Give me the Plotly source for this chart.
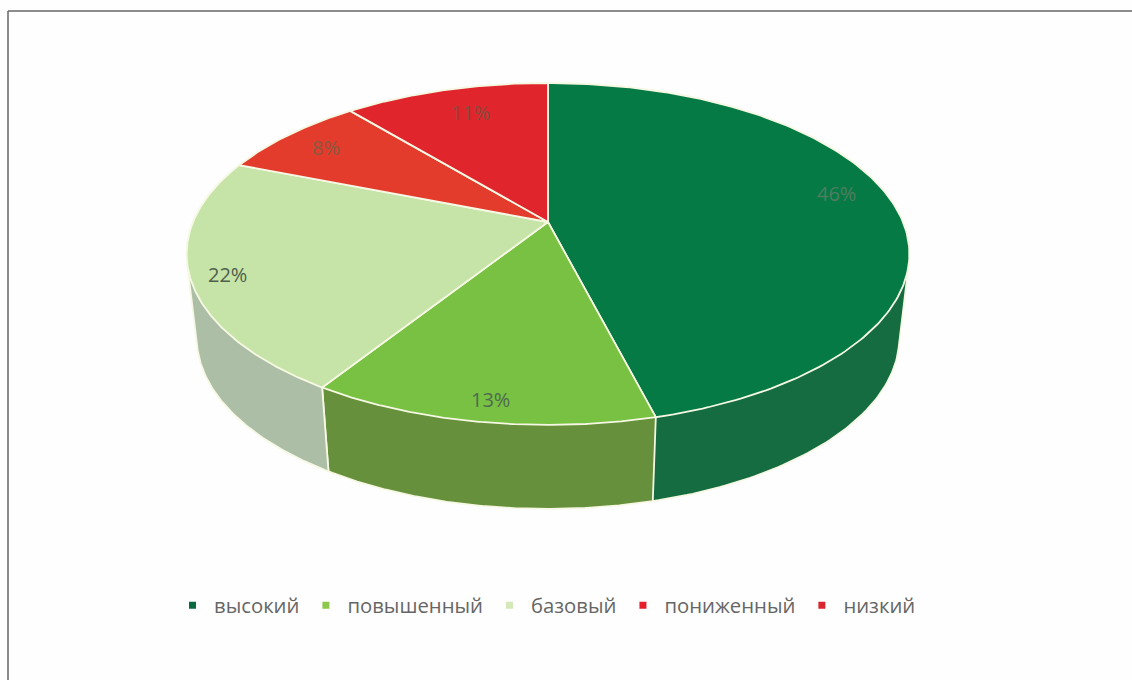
import numpy as np
import plotly.graph_objects as go

# --- data ---
categories = ["высокий", "повышенный", "базовый", "пониженный", "низкий"]
values = [46, 13, 22, 8, 11]
labels = ["46%", "13%", "22%", "8%", "11%"]

# --- style ---
top_colors = ["#067a45", "#79c142", "#c6e4a8", "#e33b2c", "#e0252c"]
side_colors = ["#146c40", "#66903b", "#acbea5", "#a83024", "#a82024"]
legend_colors = ["#0a6b40", "#8cc84b", "#d5e8ba", "#e5202a", "#d9262e"]
label_colors = ["#4f7d60", "#4d6b50", "#4f5f4c", "#8a5a40", "#8a4a3c"]
label_radius = [0.86, 0.905, 0.905, 0.845, 0.795]
label_shift = [-5, -0.5, -1.5, 0, 1.5]
edge = "#f6f8e4"

# perspective model of the tilted disc (screen pixels)
CX, CY_TOP, CY_BOT = 548, 222, 306
A_TOP, A_BOT, B, K = 355, 345, 165, 0.187


def project(theta_deg, r=1.0, a=A_TOP, cy=CY_TOP):
    t = np.radians(theta_deg)
    u, v = r * np.sin(t), r * np.cos(t)
    w = 1 + K * v
    return CX + a * u / w, cy - B * v / w


def hull(xs, ys):
    pts = sorted(set(zip(np.round(xs, 3).tolist(), np.round(ys, 3).tolist())))

    def half(seq):
        out = []
        for p in seq:
            while len(out) >= 2 and (
                (out[-1][0] - out[-2][0]) * (p[1] - out[-2][1])
                - (out[-1][1] - out[-2][1]) * (p[0] - out[-2][0])
            ) <= 0:
                out.pop()
            out.append(p)
        return out[:-1]

    ring = half(pts) + half(pts[::-1])
    ring.append(ring[0])
    return [p[0] for p in ring], [p[1] for p in ring]


fracs = np.array(values) / sum(values)
edges = np.concatenate([[0], np.cumsum(fracs) * 360])

fig = go.Figure()

# side wall, drawn first so that the top face covers its hidden part
for i in range(len(values)):
    th = np.linspace(edges[i], edges[i + 1], 200)
    xt, yt = project(th)
    xb, yb = project(th, a=A_BOT, cy=CY_BOT)
    hx, hy = hull(np.concatenate([xt, xb]), np.concatenate([yt, yb]))
    fig.add_trace(go.Scatter(
        x=hx, y=hy,
        mode="lines", fill="toself", fillcolor=side_colors[i],
        line=dict(color=edge, width=1.8), hoverinfo="skip", showlegend=False,
    ))

# top face
for i in range(len(values)):
    th = np.linspace(edges[i], edges[i + 1], 200)
    xt, yt = project(th)
    fig.add_trace(go.Scatter(
        x=np.concatenate([[CX], xt, [CX]]),
        y=np.concatenate([[CY_TOP], yt, [CY_TOP]]),
        mode="lines", fill="toself", fillcolor=top_colors[i],
        line=dict(color=edge, width=1.8), hoverinfo="skip", showlegend=False,
    ))

# legend entries
for name, col in zip(categories, legend_colors):
    fig.add_trace(go.Scatter(
        x=[None], y=[None], mode="markers", name=name,
        marker=dict(symbol="square", size=7, color=col),
    ))

# slice labels
for i, txt in enumerate(labels):
    mid = (edges[i] + edges[i + 1]) / 2 + label_shift[i]
    lx, ly = project(mid, r=label_radius[i])
    fig.add_annotation(
        x=float(lx), y=float(ly), text=txt, showarrow=False,
        font=dict(family="Open Sans", size=20, color=label_colors[i]),
    )

fig.update_layout(
    width=1132, height=680, margin=dict(l=0, r=0, t=0, b=0),
    paper_bgcolor="#fefefe", plot_bgcolor="#fefefe",
    xaxis=dict(range=[0, 1132], visible=False, fixedrange=True),
    yaxis=dict(range=[680, 0], visible=False, fixedrange=True),
    font=dict(family="Open Sans", color="#5f5f5f"),
    legend=dict(
        orientation="h", x=171 / 1132, xanchor="left", y=1 - 605.5 / 680, yanchor="middle",
        itemwidth=33,
        font=dict(family="Open Sans", size=20.3, color="#666666"),
        bgcolor="rgba(0,0,0,0)", itemclick=False, itemdoubleclick=False,
    ),
    shapes=[
        dict(type="line", xref="x", yref="y", x0=8, x1=1132, y0=11, y1=11, line=dict(color="#666666", width=1.5)),
        dict(type="line", xref="x", yref="y", x0=8, x1=8, y0=11, y1=680, line=dict(color="#666666", width=1.5)),
    ],
)
fig.write_html(
    "out.html",
    config={"displayModeBar": False},
    post_script="document.body.style.margin='0';document.documentElement.style.overflow='hidden';",
)
